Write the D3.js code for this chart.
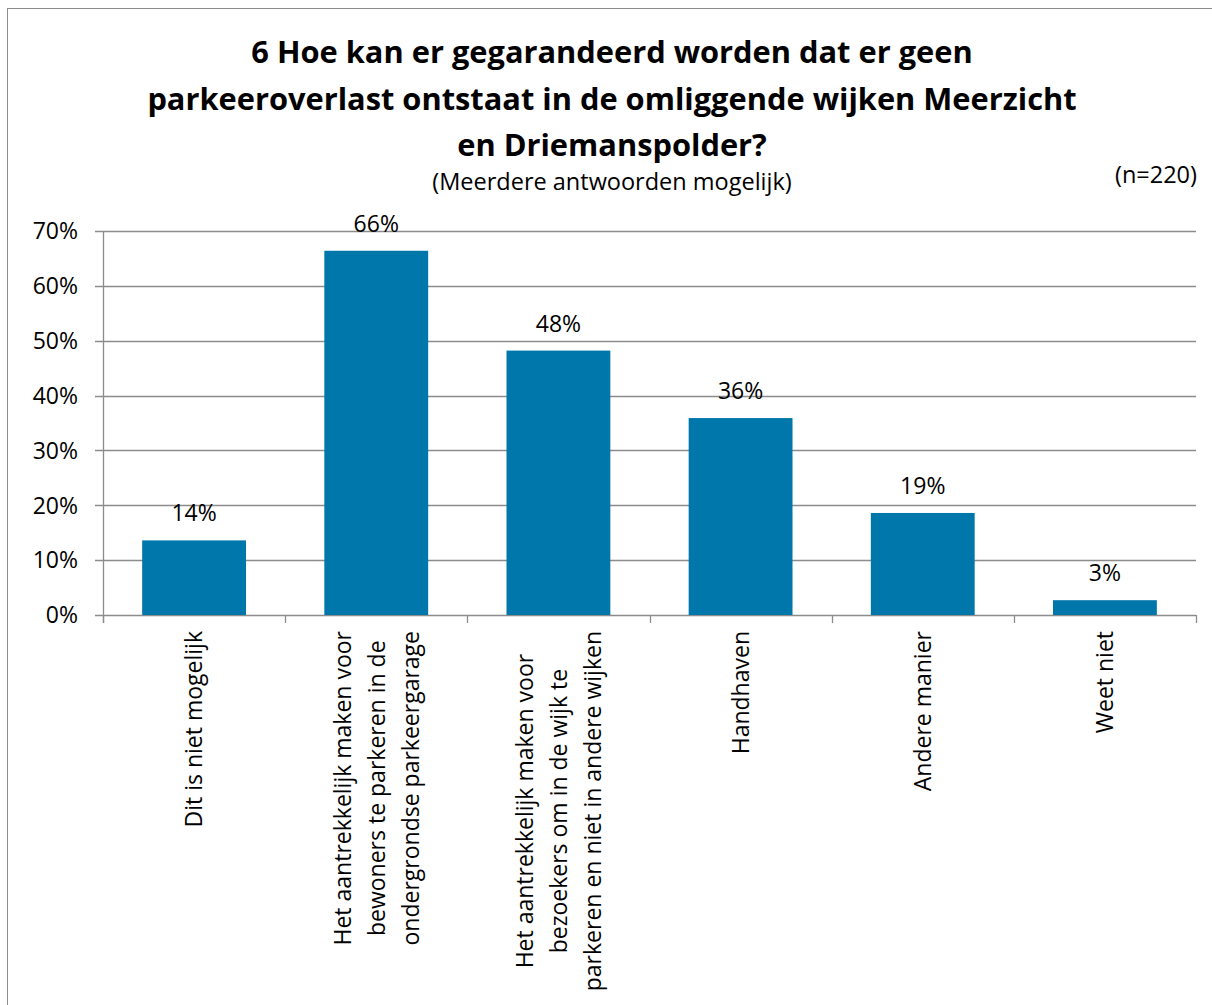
<!DOCTYPE html>
<html>
<head>
<meta charset="utf-8">
<script src="https://cdn.jsdelivr.net/npm/d3@7"></script>
<style>
  body { margin: 0; background: #fff; }
  text { font-family: "Open Sans", sans-serif; fill: #000; }
</style>
</head>
<body>
<svg id="chart" width="1212" height="1005"></svg>
<script>
const titleLines = [
    "6 Hoe kan er gegarandeerd worden dat er geen",
    "parkeeroverlast ontstaat in de omliggende wijken Meerzicht",
    "en Driemanspolder?"
];
const subtitle = "(Meerdere antwoorden mogelijk)";
const sampleNote = "(n=220)";

const categories = [
    ["Dit is niet mogelijk"],
    ["Het aantrekkelijk maken voor", "bewoners te parkeren in de", "ondergrondse parkeergarage"],
    ["Het aantrekkelijk maken voor", "bezoekers om in de wijk te", "parkeren en niet in andere wijken"],
    ["Handhaven"],
    ["Andere manier"],
    ["Weet niet"]
];
const values = [0.136, 0.664, 0.482, 0.359, 0.186, 0.027];
const yTicks = [0, 0.1, 0.2, 0.3, 0.4, 0.5, 0.6, 0.7];

const svg = d3.select("#chart");
const margin = { left: 103, right: 1196, top: 231, bottom: 615 };

// kader rond de grafiek
svg.append("rect")
    .attr("x", 7.5).attr("y", 8.5)
    .attr("width", 1300).attr("height", 1100)
    .attr("fill", "none")
    .attr("stroke", "#8c8c8c");

const x = d3.scaleBand()
    .domain(d3.range(categories.length))
    .range([margin.left, margin.right])
    .paddingInner(0.43)
    .paddingOuter(0.215);

const y = d3.scaleLinear()
    .domain([0, 0.7])
    .range([margin.bottom, margin.top]);

// rasterlijnen
svg.append("g")
    .selectAll("line")
    .data(yTicks)
    .enter().append("line")
    .attr("x1", margin.left - 8)
    .attr("x2", margin.right)
    .attr("y1", d => Math.round(y(d)) + 0.5)
    .attr("y2", d => Math.round(y(d)) + 0.5)
    .attr("stroke", "#8c8c8c")
    .attr("stroke-width", 1.3);

// y-as labels
svg.append("g")
    .selectAll("text")
    .data(yTicks)
    .enter().append("text")
    .attr("x", 78)
    .attr("y", d => y(d))
    .attr("dy", "0.36em")
    .attr("text-anchor", "end")
    .style("font-size", "23px")
    .text(d => d3.format(".0%")(d));

// y-as lijn
svg.append("line")
    .attr("x1", margin.left + 0.5).attr("x2", margin.left + 0.5)
    .attr("y1", margin.top).attr("y2", margin.bottom + 8)
    .attr("stroke", "#8c8c8c").attr("stroke-width", 1.3);

// x-as streepjes op de grenzen van de categorieën
const step = (margin.right - margin.left) / categories.length;
svg.append("g")
    .selectAll("line")
    .data(d3.range(categories.length + 1))
    .enter().append("line")
    .attr("x1", d => Math.round(margin.left + d * step) + 0.5)
    .attr("x2", d => Math.round(margin.left + d * step) + 0.5)
    .attr("y1", margin.bottom)
    .attr("y2", margin.bottom + 8)
    .attr("stroke", "#8c8c8c").attr("stroke-width", 1.3);

// staven
svg.append("g")
    .selectAll("rect")
    .data(values)
    .enter().append("rect")
    .attr("x", (d, i) => x(i))
    .attr("y", d => y(d))
    .attr("width", x.bandwidth())
    .attr("height", d => y(0) - y(d))
    .attr("fill", "#0077ab");

// waardelabels
svg.append("g")
    .selectAll("text")
    .data(values)
    .enter().append("text")
    .attr("x", (d, i) => x(i) + x.bandwidth() / 2)
    .attr("y", d => y(d) - 19)
    .attr("text-anchor", "middle")
    .style("font-size", "23px")
    .text(d => d3.format(".0%")(d));

// categorie labels, gedraaid
const catGroups = svg.append("g")
    .selectAll("g")
    .data(categories)
    .enter().append("g")
    .attr("transform", (d, i) => `translate(${x(i) + x.bandwidth() / 2},631) rotate(-90)`);

catGroups.each(function (lines) {
    const g = d3.select(this);
    const texts = g.selectAll("text")
        .data(lines)
        .enter().append("text")
        .attr("text-anchor", "middle")
        .attr("y", (d, i) => (i - (lines.length - 1) / 2) * 34)
        .attr("dy", "0.36em")
        .style("font-size", "23px")
        .text(d => d);
    let maxW = 0;
    texts.each(function () { maxW = Math.max(maxW, this.getComputedTextLength()); });
    texts.attr("x", -maxW / 2);
});

// titel
svg.append("g")
    .selectAll("text")
    .data(titleLines)
    .enter().append("text")
    .attr("x", 612)
    .attr("y", (d, i) => 63 + i * 46.5)
    .attr("text-anchor", "middle")
    .style("font-size", "30.8px")
    .style("font-weight", "bold")
    .text(d => d);

svg.append("text")
    .attr("x", 612).attr("y", 190)
    .attr("text-anchor", "middle")
    .style("font-size", "23.5px")
    .text(subtitle);

svg.append("text")
    .attr("x", 1197).attr("y", 183)
    .attr("text-anchor", "end")
    .style("font-size", "23.5px")
    .text(sampleNote);
</script>
</body>
</html>
